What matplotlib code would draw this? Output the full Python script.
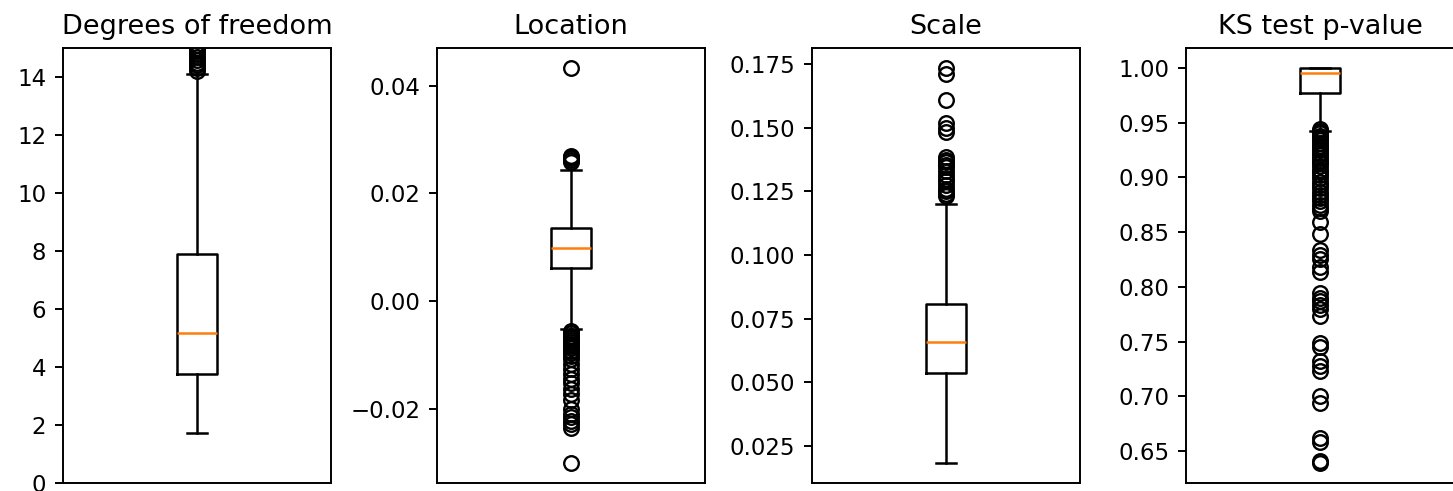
import matplotlib
matplotlib.use("Agg")
import matplotlib.pyplot as plt

# panel titles
titles = ["Degrees of freedom", "Location", "Scale", "KS test p-value"]

# box stats: q1, median, q3, lower whisker, upper whisker
dof_box = [3.76, 5.18, 7.9, 1.71, 14.12]
loc_box = [0.00613, 0.00984, 0.01356, -0.00526, 0.02427]
scale_box = [0.0537, 0.0658, 0.0809, 0.0181, 0.1201]
ks_box = [0.9767, 0.9954, 1.0, 0.9423, 1.0]

# outliers
dof_fliers = [14.2, 14.3, 14.4, 14.5, 14.6, 14.7, 14.8, 14.9, 14.95, 15.0, 15.1]
loc_fliers = [0.0433, 0.0259, 0.0262, 0.0265, 0.0268, 0.0270,
              -0.0056, -0.0060, -0.0064, -0.0068, -0.0072, -0.0076, -0.0080,
              -0.0084, -0.0088, -0.0092, -0.0097, -0.0102, -0.0107,
              -0.0116, -0.0126, -0.0135, -0.0144, -0.0153, -0.0163, -0.0172,
              -0.0184, -0.0200, -0.0209, -0.0215, -0.0222, -0.0228, -0.0235,
              -0.0301]
scale_fliers = [0.1736, 0.1712, 0.1609, 0.1518, 0.1500, 0.1483,
                0.1385, 0.1375, 0.1365, 0.1355, 0.1345, 0.1330, 0.1315,
                0.1300, 0.1290, 0.1275, 0.1260, 0.1250, 0.1240, 0.1230]
ks_fliers = [0.944, 0.942, 0.940, 0.938, 0.936, 0.934, 0.931, 0.929, 0.927,
             0.925, 0.922, 0.920, 0.918, 0.915, 0.913, 0.910, 0.907, 0.905,
             0.902, 0.899, 0.896, 0.893, 0.890, 0.887, 0.884, 0.881, 0.878,
             0.875, 0.872, 0.869, 0.859, 0.848, 0.834, 0.829, 0.825, 0.818,
             0.814, 0.794, 0.790, 0.787, 0.783, 0.780, 0.773, 0.749, 0.745,
             0.732, 0.728, 0.723, 0.700, 0.694, 0.662, 0.658, 0.641, 0.639]

# y ticks shown in each panel
dof_ticks = [0, 2, 4, 6, 8, 10, 12, 14]
loc_ticks = [-0.02, 0.00, 0.02, 0.04]
scale_ticks = [0.025, 0.050, 0.075, 0.100, 0.125, 0.150, 0.175]
ks_ticks = [0.65, 0.70, 0.75, 0.80, 0.85, 0.90, 0.95, 1.00]

boxes = [dof_box, loc_box, scale_box, ks_box]
fliers = [dof_fliers, loc_fliers, scale_fliers, ks_fliers]
ticks = [dof_ticks, loc_ticks, scale_ticks, ks_ticks]
fmts = ["{:.0f}", "{:.2f}", "{:.3f}", "{:.2f}"]

W, H = 1453, 491
fig = plt.figure(figsize=(W / 100, H / 100), dpi=100)
lefts = [63, 437, 812, 1186]

for i in range(4):
    ax = fig.add_axes([lefts[i] / W, 8 / H, 268 / W, 435 / H])
    q1, med, q3, lo, hi = boxes[i]
    st = dict(q1=q1, med=med, q3=q3, whislo=lo, whishi=hi, fliers=fliers[i])
    ax.bxp([st], positions=[1], widths=0.15,
           boxprops=dict(linewidth=1.8),
           whiskerprops=dict(linewidth=1.8),
           capprops=dict(linewidth=1.8),
           medianprops=dict(linewidth=1.8, color="C1"),
           flierprops=dict(marker="o", markersize=10.5, markeredgewidth=1.7,
                           markerfacecolor="none", markeredgecolor="black"))
    ax.set_xlim(0.5, 1.5)
    ax.set_xticks([])
    ax.set_yticks(ticks[i])
    ax.set_yticklabels([fmts[i].format(t).replace("-", "\u2212") for t in ticks[i]])
    ax.set_title(titles[i], fontsize=19.5, pad=10)
    ax.tick_params(axis="y", labelsize=16.5, length=6, width=1.4, pad=6)
    for s in ax.spines.values():
        s.set_linewidth(1.4)
    if i == 0:
        ax.set_ylim(0, 15)

fig.savefig("out.png", dpi=100)
